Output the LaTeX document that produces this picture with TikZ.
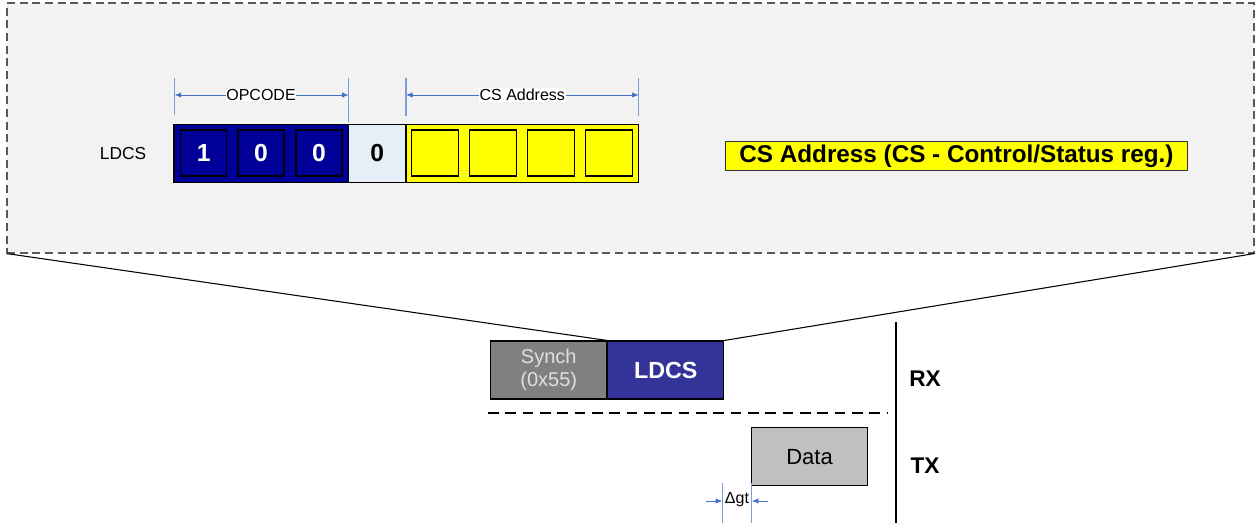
\documentclass[tikz,border=0pt]{standalone}
\usepackage{fontspec}
\setmainfont{Liberation Sans}
\usepackage{xcolor}
\usetikzlibrary{arrows.meta,positioning}

\definecolor{panelgray}{HTML}{F2F2F2}
\definecolor{opblue}{HTML}{000099}
\definecolor{flagblue}{HTML}{E6EEF8}
\definecolor{addryellow}{HTML}{FFFF00}
\definecolor{synchgray}{HTML}{808080}
\definecolor{ldcsblue}{HTML}{333399}
\definecolor{datagray}{HTML}{C0C0C0}
\definecolor{dimblue}{HTML}{4472C4}

\begin{document}
\begin{tikzpicture}[
  x=0.75pt, y=-0.75pt,
  frame/.style={
    draw=black!65,
    fill=panelgray,
    dash pattern=on 6pt off 3.5pt,
    line width=0.8pt,
    minimum width=935.25pt,
    minimum height=187.5pt,
    inner sep=0pt,
  },
  field/.style={draw=black, line width=0.8pt, inner sep=0pt, minimum height=43.5pt},
  bitcell/.style={
    draw=black,
    line width=0.8pt,
    inner sep=0pt,
    minimum width=34.5pt,
    minimum height=34.5pt,
    font=\fontsize{18.5}{20}\selectfont\bfseries,
  },
  opbit/.style={bitcell, fill=opblue, text=white},
  addrbit/.style={bitcell, fill=addryellow, minimum width=35.25pt},
  frame_box/.style={
    draw=black,
    line width=0.8pt,
    inner sep=0pt,
    minimum width=87pt,
    minimum height=43.5pt,
    align=center,
  },
  dim/.style={-{Latex[length=5pt,width=4pt]}, dimblue, line width=0.6pt},
  tick/.style={dimblue!70, line width=0.8pt},
  dimlabel/.style={fill=white, text=black, inner sep=0.5pt, font=\fontsize{12}{14}\selectfont},
  sidelabel/.style={font=\fontsize{17}{20}\selectfont\bfseries},
]
\useasboundingbox (0,0) rectangle (1255,523);

% zoomed-in view of the LDCS byte
\node[frame] (zoomframe) at (630.5,128) {};

\node[font=\fontsize{13}{15}\selectfont] (ldcslabel) at (123,154) {LDCS};

\node[field, fill=opblue, minimum width=131pt] (opfield) at (261.3,153.3) {};
\node[field, fill=flagblue, minimum width=43pt, font=\fontsize{18.5}{20}\selectfont\bfseries] (flagbit) at (377.3,153.3) {0};
\node[field, fill=addryellow, minimum width=174.5pt] (addrfield) at (522.3,153.3) {};

\node[opbit] (bit1) at (203.7,153) {1};
\node[opbit] (bit2) at (261,153) {0};
\node[opbit] (bit3) at (319,153) {0};

\node[addrbit] (addr1) at (434.8,153) {};
\node[addrbit] (addr2) at (493.3,153) {};
\node[addrbit] (addr3) at (551.3,153) {};
\node[addrbit] (addr4) at (609.3,153) {};

% dimension marks
\coordinate (opL) at (174.5,78);
\coordinate (opR) at (348.7,78);
\coordinate (csL) at (406,78);
\coordinate (csR) at (638.7,78);
\draw[tick] (opL) -- ++(0,37);
\draw[tick] (opR) -- ++(0,44);
\draw[tick] (csL) -- ++(0,38);
\draw[tick] (csR) -- ++(0,38);
\draw[dim] (261,95) -- (174.5,95);
\draw[dim] (261,95) -- (348.7,95) node[dimlabel, pos=0] {OPCODE};
\draw[dim] (522.3,95) -- (406,95);
\draw[dim] (522.3,95) -- (638.7,95) node[dimlabel, pos=0] {CS Address};

\node[draw=black!80, fill=addryellow, line width=0.8pt, inner sep=0pt,
  minimum width=347pt, minimum height=21.5pt,
  font=\fontsize{18.2}{20}\selectfont\bfseries] (cslabel) at (956.5,156)
  {CS Address (CS - Control/Status reg.)};

% frame sequence
\node[frame_box, fill=synchgray, text=black!12, font=\fontsize{15}{17}\selectfont] (synch) at (548.7,370) {Synch\\(0x55)};
\node[frame_box, fill=ldcsblue, text=white, font=\fontsize{17.5}{20}\selectfont\bfseries, right=0pt of synch] (ldcs) {LDCS};
\node[frame_box, fill=datagray, font=\fontsize{16.5}{19}\selectfont] (data) at (809.5,456.7) {Data};

\draw[line width=0.8pt] (zoomframe.south west) -- (synch.north east);
\draw[line width=0.8pt] (zoomframe.south east) -- (ldcs.north east);

% RX / TX separation
\coordinate (sepL) at (488,413);
\coordinate (sepR) at (888,413);
\draw[line width=1pt, dash pattern=on 8pt off 5pt] (sepL) -- (sepR);
\coordinate (axisT) at (896,322);
\coordinate (axisB) at (896,523);
\draw[line width=1pt] (axisT) -- (axisB);
\node[sidelabel] (rx) at (925,379) {RX};
\node[sidelabel] (tx) at (925,466) {TX};

% guard time
\coordinate (gtL) at (722.3,483);
\coordinate (gtR) at (751.7,483);
\draw[tick] (gtL) -- ++(0,40);
\draw[tick] (gtR) -- ++(0,40);
\draw[dim] ([xshift=-12pt,yshift=-13.5pt]gtL) -- ([yshift=-13.5pt]gtL);
\draw[dim] ([xshift=12pt,yshift=-13.5pt]gtR) -- ([yshift=-13.5pt]gtR);
\node[font=\fontsize{12}{14}\selectfont, inner sep=0pt] (gtlabel) at (737,500) {Δgt};

\end{tikzpicture}
\end{document}
